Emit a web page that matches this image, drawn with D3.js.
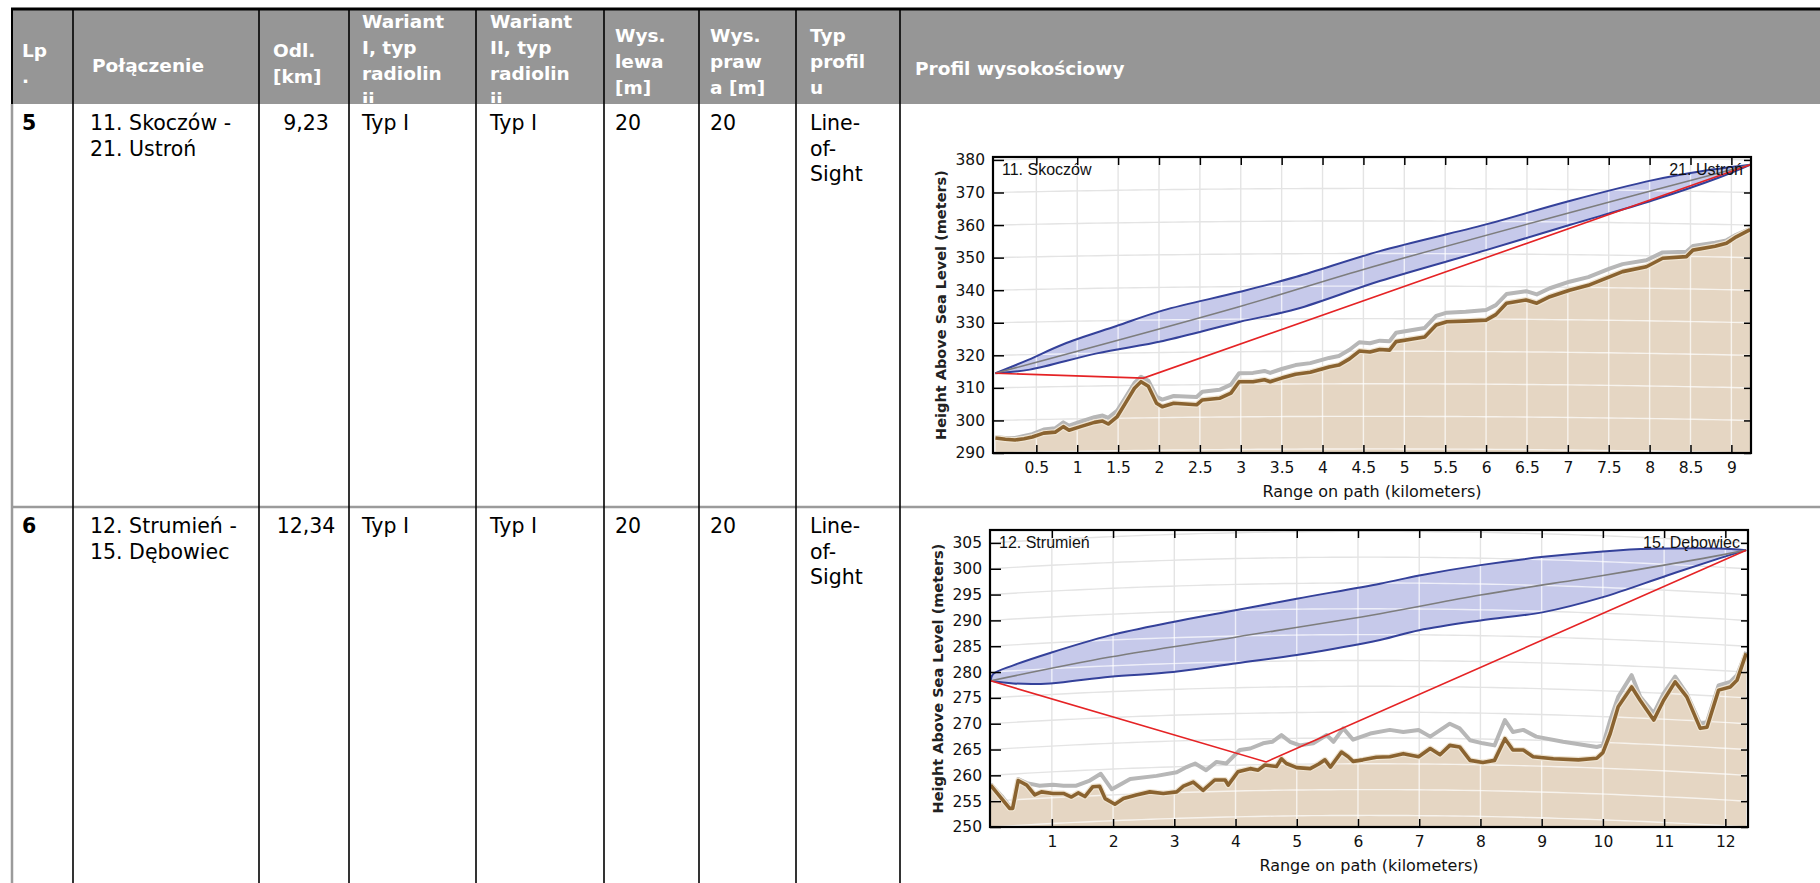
<!DOCTYPE html>
<html>
<head>
<meta charset="utf-8">
<script src="https://cdn.jsdelivr.net/npm/d3@7"></script>
<style>
html,body{margin:0;padding:0;background:#fff;overflow:hidden}
svg{display:block}
</style>
</head>
<body>
<div id="app"></div>
<script>
// ---- table text
const headerLabels = [['Lp', '.'], ['Połączenie'], ['Odl.', '[km]'], ['Wariant', 'I, typ', 'radiolin', 'ii'],
  ['Wariant', 'II, typ', 'radiolin', 'ii'], ['Wys.', 'lewa', '[m]'], ['Wys.', 'praw', 'a [m]'], ['Typ', 'profil', 'u'],
  ['Profil wysokościowy']]
const rowLp = ['5', '6']
const rowLink = [['11. Skoczów -', '21. Ustroń'], ['12. Strumień -', '15. Dębowiec']]
const rowDist = ['9,23', '12,34']
const rowVar1 = ['Typ I', 'Typ I']
const rowVar2 = ['Typ I', 'Typ I']
const rowHLeft = ['20', '20']
const rowHRight = ['20', '20']
const rowProfile = [['Line-', 'of-', 'Sight'], ['Line-', 'of-', 'Sight']]

// ---- profile 1 : 11. Skoczów - 21. Ustroń  (km, m)
const p1Names = ['11. Skoczów', '21. Ustroń']
const p1Length = 9.23
const p1XTicks = [0.5, 1, 1.5, 2, 2.5, 3, 3.5, 4, 4.5, 5, 5.5, 6, 6.5, 7, 7.5, 8, 8.5, 9]
const p1YTicks = [290, 300, 310, 320, 330, 340, 350, 360, 370, 380]
const p1Ground = [[0,294.6],[0.12,294.2],[0.24,294.0],[0.35,294.4],[0.45,294.9],[0.59,296.1],[0.73,296.4],[0.83,298.1],
  [0.90,297.0],[1.04,298.1],[1.21,299.4],[1.31,299.8],[1.38,298.9],[1.49,301.2],[1.59,305.3],[1.70,309.9],[1.78,311.9],
  [1.87,310.5],[1.97,305.3],[2.04,304.2],[2.18,305.3],[2.46,304.8],[2.53,306.3],[2.74,306.8],[2.88,308.4],[2.98,311.9],
  [3.15,311.9],[3.29,312.5],[3.36,311.9],[3.50,313.0],[3.67,314.2],[3.85,314.8],[4.08,316.4],[4.20,317.0],[4.33,318.9],
  [4.45,321.3],[4.58,321.0],[4.70,321.8],[4.82,321.6],[4.90,324.2],[5.10,325.0],[5.25,325.6],[5.39,329.3],[5.52,330.3],
  [5.75,330.5],[6.00,330.8],[6.12,332.5],[6.25,336.0],[6.49,337.0],[6.62,336.0],[6.78,338.0],[7.02,340.0],[7.25,341.5],
  [7.51,344.1],[7.67,345.7],[7.96,347.2],[8.16,349.8],[8.45,350.3],[8.53,352.3],[8.80,353.5],[8.94,354.4],[9.06,356.4],
  [9.23,358.6]]
const p1Clutter = [[0,294.8],[0.12,294.6],[0.24,294.6],[0.35,295.2],[0.45,295.8],[0.59,297.2],[0.73,297.6],[0.83,299.4],
  [0.90,298.4],[1.04,299.6],[1.21,301.0],[1.31,301.5],[1.38,300.8],[1.49,303.0],[1.59,307.0],[1.70,311.5],[1.78,313.4],
  [1.87,312.2],[1.97,307.3],[2.04,306.4],[2.18,307.5],[2.46,307.2],[2.53,308.8],[2.74,309.4],[2.88,311.0],[2.98,314.5],
  [3.15,314.6],[3.29,315.2],[3.36,314.6],[3.50,315.8],[3.67,317.0],[3.85,317.6],[4.08,319.2],[4.20,319.8],[4.33,321.7],
  [4.45,324.0],[4.58,323.7],[4.70,324.5],[4.82,324.3],[4.90,326.9],[5.10,327.8],[5.25,328.4],[5.39,332.1],[5.52,333.1],
  [5.75,333.4],[6.00,333.9],[6.12,335.4],[6.25,338.8],[6.49,339.7],[6.62,338.7],[6.78,340.6],[7.02,342.6],[7.25,344.0],
  [7.51,346.6],[7.67,348.0],[7.96,349.2],[8.16,351.6],[8.45,351.8],[8.53,353.6],[8.80,354.6],[8.94,355.3],[9.06,357.0],
  [9.23,358.8]]
const p1Upper = [[0,314.5],[0.40,318.6],[0.83,323.4],[1.48,329.0],[2.05,333.8],[2.99,339.5],[3.68,344.1],[4.70,352.0],
  [6.00,360.2],[7.02,367.4],[8.04,373.8],[8.65,376.6],[9.23,378.5]]
const p1Lower = [[0,314.5],[0.42,315.6],[1.24,320.6],[2.05,324.4],[2.99,330.3],[3.68,334.2],[4.70,342.8],[6.00,352.3],
  [7.02,360.0],[8.04,367.6],[8.85,374.6],[9.23,378.5]]
const p1Center = [[0,314.5],[2.99,335.0],[4.49,346.3],[7.02,363.8],[9.23,378.5]]
const p1Ray = [[0,314.5],[1.81,313.0],[9.23,378.5]]

// ---- profile 2 : 12. Strumień - 15. Dębowiec  (km, m)
const p2Names = ['12. Strumień', '15. Dębowiec']
const p2Length = 12.34
const p2XTicks = [1, 2, 3, 4, 5, 6, 7, 8, 9, 10, 11, 12]
const p2YTicks = [250, 255, 260, 265, 270, 275, 280, 285, 290, 295, 300, 305]
const p2Ground = [[0,258.1],[0.18,255.5],[0.31,253.6],[0.36,253.6],[0.45,259.0],[0.59,258.1],[0.72,256.2],[0.83,256.8],
  [1.02,256.5],[1.19,256.5],[1.32,255.8],[1.43,256.6],[1.54,255.9],[1.67,257.8],[1.78,257.9],[1.87,255.5],[2.03,254.4],
  [2.17,255.5],[2.38,256.2],[2.60,256.8],[2.82,256.5],[3.04,256.8],[3.15,257.9],[3.31,258.7],[3.47,257.1],[3.66,259.1],
  [3.83,259.1],[3.88,258.1],[4.04,260.7],[4.24,261.3],[4.37,261.0],[4.48,262.0],[4.67,261.7],[4.75,263.2],[4.83,262.3],
  [5.00,261.5],[5.22,261.3],[5.36,262.2],[5.46,263.0],[5.55,261.6],[5.73,264.5],[5.84,263.6],[5.92,262.7],[6.08,263.0],
  [6.30,263.5],[6.52,263.6],[6.74,264.2],[6.99,263.6],[7.18,265.2],[7.34,264.0],[7.50,265.8],[7.66,265.5],[7.83,262.9],
  [8.04,262.5],[8.23,262.9],[8.40,267.1],[8.53,264.9],[8.70,264.9],[8.86,263.6],[9.19,263.2],[9.60,263.0],[9.90,263.3],
  [10.00,264.4],[10.12,268.1],[10.25,273.3],[10.47,277.1],[10.61,274.5],[10.83,270.7],[10.99,274.5],[11.18,278.1],
  [11.37,275.2],[11.59,269.1],[11.70,269.3],[11.89,276.5],[12.08,277.1],[12.19,278.4],[12.34,283.6]]
const p2Clutter = [[0,258.3],[0.18,256.0],[0.31,254.0],[0.36,254.0],[0.45,259.3],[0.59,258.5],[0.80,258.0],[1.02,258.2],
  [1.19,258.0],[1.40,258.0],[1.62,259.0],[1.80,260.3],[1.98,257.3],[2.28,259.3],[2.71,259.9],[3.04,260.6],[3.20,261.6],
  [3.34,262.3],[3.52,261.0],[3.69,262.6],[3.85,262.3],[4.07,264.9],[4.24,265.2],[4.45,266.2],[4.60,266.5],[4.75,267.8],
  [4.89,266.5],[5.05,265.8],[5.27,266.2],[5.49,267.8],[5.60,266.5],[5.76,269.1],[5.92,266.9],[6.20,268.1],[6.52,268.8],
  [6.74,268.4],[6.99,268.8],[7.18,267.5],[7.50,270.0],[7.66,269.1],[7.83,266.8],[8.04,266.2],[8.23,265.8],[8.40,270.7],
  [8.53,268.4],[8.70,268.8],[8.91,267.5],[9.35,266.5],[9.90,265.5],[10.00,265.8],[10.12,270.7],[10.25,275.2],[10.47,279.4],
  [10.61,275.2],[10.83,272.0],[10.99,275.8],[11.18,279.1],[11.37,275.8],[11.59,270.0],[11.70,270.3],[11.89,277.4],
  [12.08,278.1],[12.19,279.4],[12.34,283.9]]
const p2Upper = [[0,278.3],[0.04,279.6],[0.37,281.3],[0.97,283.7],[1.95,287.1],[2.98,289.7],[4.02,292.0],[5.00,294.2],
  [6.36,297.1],[7.00,298.7],[8.00,300.7],[9.03,302.3],[10.28,303.6],[11.10,303.9],[11.90,303.9],[12.34,303.6]]
const p2Lower = [[0,278.3],[0.37,277.8],[0.97,277.8],[1.95,279.1],[2.98,280.0],[4.02,281.7],[5.00,283.3],[6.36,286.2],
  [7.00,288.1],[8.00,290.0],[9.03,291.6],[10.00,294.5],[11.05,298.7],[11.90,302.0],[12.34,303.6]]
const p2Center = [[0,278.3],[1.95,282.9],[4.02,286.8],[6.36,291.3],[8.00,294.9],[10.00,298.7],[11.64,302.0],[12.34,303.6]]
const p2Ray = [[0,278.3],[4.50,262.6],[12.34,303.6]]

const xTitle = 'Range on path (kilometers)'
const yTitle = 'Height Above Sea Level (meters)'

// ---- layout
const W = 1820, H = 883
const colX = [12, 73, 259, 349, 476, 604, 699, 796, 900]
const headTop = 9, headBottom = 104, rowTop = [104, 507]
const headTextX = [22, 92, 273, 362, 490, 615, 710, 810, 915]
const bodyTextX = [22, 90, 306, 362, 490, 615, 710, 810]
const headLineY = [[50,76],[65],[50,76],[21,47,73,99],[21,47,73,99],[35,61,87],[35,61,87],[35,61,87],[68]]
const bodyFont = 'DejaVu Sans, Verdana, sans-serif'

const svg = d3.select('#app').append('svg').attr('width', W).attr('height', H)
svg.append('rect').attr('width', W).attr('height', H).attr('fill', '#fff')

// header
svg.append('rect').attr('x', colX[0]).attr('y', headTop).attr('width', W - colX[0]).attr('height', headBottom - headTop)
  .attr('fill', '#969696')
svg.append('clipPath').attr('id', 'headclip').append('rect')
  .attr('x', colX[0]).attr('y', headTop + 1).attr('width', W).attr('height', headBottom - headTop - 2)
const head = svg.append('g').attr('clip-path', 'url(#headclip)')
  .attr('font-family', bodyFont).attr('font-weight', 'bold').attr('font-size', 18.5).attr('fill', '#fff')
headerLabels.forEach((lines, i) => {
  lines.forEach((t, j) => {
    head.append('text').attr('x', headTextX[i]).attr('y', headLineY[i][j]).attr('dominant-baseline', 'central').text(t)
  })
})

// rows
const body = svg.append('g').attr('font-family', bodyFont).attr('font-size', 20.5).attr('fill', '#000')
const lineGap = 25.5
rowTop.forEach((top, r) => {
  const base = top + 26
  const put = (x, lines, opts = {}) => {
    lines.forEach((t, j) => {
      const el = body.append('text').attr('x', x).attr('y', base + j * lineGap).text(t)
      if (opts.bold) el.attr('font-weight', 'bold')
      if (opts.mid) el.attr('text-anchor', 'middle')
    })
  }
  put(bodyTextX[0], [rowLp[r]], {bold: true})
  put(bodyTextX[1], rowLink[r])
  put(bodyTextX[2], [rowDist[r]], {mid: true})
  put(bodyTextX[3], [rowVar1[r]])
  put(bodyTextX[4], [rowVar2[r]])
  put(bodyTextX[5], [rowHLeft[r]])
  put(bodyTextX[6], [rowHRight[r]])
  put(bodyTextX[7], rowProfile[r])
})

// borders
svg.append('line').attr('x1', colX[0]).attr('x2', W).attr('y1', rowTop[1]).attr('y2', rowTop[1])
  .attr('stroke', '#9b9b9b').attr('stroke-width', 2.5)
svg.append('line').attr('x1', colX[0]).attr('x2', colX[0]).attr('y1', headBottom).attr('y2', H)
  .attr('stroke', '#9b9b9b').attr('stroke-width', 2.5)
svg.append('line').attr('x1', colX[0]).attr('x2', colX[0]).attr('y1', headTop).attr('y2', headBottom)
  .attr('stroke', '#000').attr('stroke-width', 2)
colX.slice(1).forEach(cx => {
  svg.append('line').attr('x1', cx).attr('x2', cx).attr('y1', headTop).attr('y2', H)
    .attr('stroke', '#000').attr('stroke-width', 1.6)
})
svg.append('line').attr('x1', colX[0] - 1).attr('x2', W).attr('y1', headTop).attr('y2', headTop)
  .attr('stroke', '#000').attr('stroke-width', 3)

// ---- profile charts
function profile(o) {
  const x = d3.scaleLinear().domain(o.xDom).range([o.left, o.right])
  const y = d3.scaleLinear().domain(o.yDom).range([o.bottom, o.top])
  const g = svg.append('g')
  const defs = g.append('defs')
  defs.append('clipPath').attr('id', o.id + 'frame').append('rect')
    .attr('x', o.left).attr('y', o.top).attr('width', o.right - o.left).attr('height', o.bottom - o.top)

  // earth bulge used for the curved horizontal grid (k = 4/3)
  const bulge = d => Math.max(0, d * (o.len - d)) * 0.0589
  const samples = d3.range(0, 81).map(i => o.xDom[0] + (o.xDom[1] - o.xDom[0]) * i / 80)
  const gridPath = v => d3.line().x(d => x(d)).y(d => y(v + bulge(d)))(samples)

  const terrainArea = d3.area().x(d => x(d[0])).y0(o.bottom).y1(d => y(d[1]))(o.ground)
  const smooth = d3.line().x(d => x(d[0])).y(d => y(d[1])).curve(d3.curveCatmullRom.alpha(0.5))
  const straight = d3.line().x(d => x(d[0])).y(d => y(d[1]))
  const zonePath = smooth(o.upper) + smooth(o.lower.slice().reverse()).replace(/^M/, 'L') + 'Z'

  const fillClip = defs.append('clipPath').attr('id', o.id + 'fills')
  fillClip.append('path').attr('d', terrainArea)
  fillClip.append('path').attr('d', zonePath)

  const plot = g.append('g').attr('clip-path', `url(#${o.id}frame)`)
  plot.append('rect').attr('x', o.left).attr('y', o.top).attr('width', o.right - o.left)
    .attr('height', o.bottom - o.top).attr('fill', '#fff')

  const drawGrid = (sel, color, op) => {
    const gg = sel.append('g').attr('stroke', color).attr('stroke-opacity', op).attr('stroke-width', 1.4).attr('fill', 'none')
    o.xTicks.forEach(t => gg.append('line').attr('x1', x(t)).attr('x2', x(t)).attr('y1', o.top).attr('y2', o.bottom))
    o.yTicks.forEach(v => gg.append('path').attr('d', gridPath(v)))
  }
  drawGrid(plot, '#e4e4e4', 1)

  plot.append('path').attr('d', zonePath).attr('fill', '#c6c9ea')
  plot.append('path').attr('d', terrainArea).attr('fill', '#e5d6c3')
  drawGrid(plot.append('g').attr('clip-path', `url(#${o.id}fills)`), '#ffffff', 0.7)

  plot.append('path').attr('d', straight(o.clutter)).attr('fill', 'none').attr('stroke', '#b7b7b7')
    .attr('stroke-width', 4).attr('stroke-linejoin', 'round')
  plot.append('path').attr('d', straight(o.ground)).attr('fill', 'none').attr('stroke', '#efe4d2')
    .attr('stroke-width', 6).attr('stroke-linejoin', 'round')
  plot.append('path').attr('d', straight(o.ground)).attr('fill', 'none').attr('stroke', '#8a6330')
    .attr('stroke-width', 3.6).attr('stroke-linejoin', 'round')

  plot.append('path').attr('d', smooth(o.upper)).attr('fill', 'none').attr('stroke', '#34419a').attr('stroke-width', 2)
  plot.append('path').attr('d', smooth(o.lower)).attr('fill', 'none').attr('stroke', '#34419a').attr('stroke-width', 2)
  plot.append('path').attr('d', smooth(o.center)).attr('fill', 'none').attr('stroke', '#7d7d7d').attr('stroke-width', 1.6)
  plot.append('path').attr('d', straight(o.ray)).attr('fill', 'none').attr('stroke', '#e52325').attr('stroke-width', 1.6)

  // axes with inward ticks
  const fmt = d => String(d)
  const style = sel => {
    sel.attr('font-family', bodyFont).attr('font-size', 15.5).select('.domain').remove()
    sel.selectAll('.tick line').attr('stroke-width', 1.5)
    sel.selectAll('.tick text').attr('fill', '#111')
  }
  g.append('g').attr('transform', `translate(${o.left},0)`)
    .call(d3.axisLeft(y).tickValues(o.yTicks).tickFormat(fmt).tickSizeInner(-11).tickSizeOuter(0).tickPadding(8)).call(style)
  g.append('g').attr('transform', `translate(0,${o.bottom})`)
    .call(d3.axisBottom(x).tickValues(o.xTicks).tickFormat(fmt).tickSizeInner(-8).tickSizeOuter(0).tickPadding(9)).call(style)
  g.append('g').attr('transform', `translate(0,${o.top})`)
    .call(d3.axisTop(x).tickValues(o.xTicks).tickFormat('').tickSizeInner(-8).tickSizeOuter(0)).call(style)
  g.append('g').attr('transform', `translate(${o.right},0)`)
    .call(d3.axisRight(y).tickValues(o.yTicks).tickFormat('').tickSizeInner(-7).tickSizeOuter(0)).call(style)

  g.append('rect').attr('x', o.left).attr('y', o.top).attr('width', o.right - o.left).attr('height', o.bottom - o.top)
    .attr('fill', 'none').attr('stroke', '#000').attr('stroke-width', 2.2)

  // site names
  g.append('text').attr('x', o.left + 9).attr('y', o.top + 18).attr('font-family', 'Liberation Sans, Arial, sans-serif')
    .attr('font-size', 16).attr('fill', '#111').text(o.names[0])
  g.append('text').attr('x', o.right - 8).attr('y', o.top + 18).attr('text-anchor', 'end')
    .attr('font-family', 'Liberation Sans, Arial, sans-serif').attr('font-size', 16).attr('fill', '#111').text(o.names[1])

  // titles
  g.append('text').attr('x', (o.left + o.right) / 2).attr('y', o.bottom + 44).attr('text-anchor', 'middle')
    .attr('font-family', bodyFont).attr('font-size', 16).attr('fill', '#111').text(xTitle)
  g.append('text').attr('transform', `translate(${o.left - 47},${(o.top + o.bottom) / 2}) rotate(-90)`)
    .attr('text-anchor', 'middle').attr('font-family', bodyFont).attr('font-weight', 'bold')
    .attr('font-size', 14.5).attr('fill', '#222').text(yTitle)
}

profile({id: 'p1', left: 993, right: 1751, top: 157, bottom: 453, xDom: [-0.03, 9.24], yDom: [290, 380.9],
  len: p1Length, xTicks: p1XTicks, yTicks: p1YTicks, ground: p1Ground, clutter: p1Clutter,
  upper: p1Upper, lower: p1Lower, center: p1Center, ray: p1Ray, names: p1Names})
profile({id: 'p2', left: 990, right: 1748, top: 530, bottom: 827, xDom: [-0.01, 12.37], yDom: [250, 307.5],
  len: p2Length, xTicks: p2XTicks, yTicks: p2YTicks, ground: p2Ground, clutter: p2Clutter,
  upper: p2Upper, lower: p2Lower, center: p2Center, ray: p2Ray, names: p2Names})
</script>
</body>
</html>
